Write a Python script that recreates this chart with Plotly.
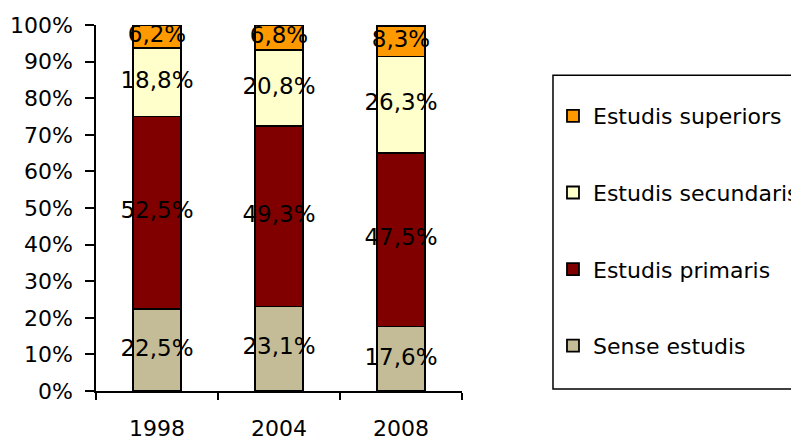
import plotly.graph_objects as go
import numpy as np

years = ["1998", "2004", "2008"]
sense_estudis = [22.5, 23.1, 17.6]
estudis_primaris = [52.5, 49.3, 47.5]
estudis_secundaris = [18.8, 20.8, 26.3]
estudis_superiors = [6.2, 6.8, 8.3]

series = [
    ("Sense estudis", sense_estudis, "#C4BC96"),
    ("Estudis primaris", estudis_primaris, "#800000"),
    ("Estudis secundaris", estudis_secundaris, "#FFFFCC"),
    ("Estudis superiors", estudis_superiors, "#FF9900"),
]

FONT = "DejaVu Sans"
fig = go.Figure()
base = np.zeros(len(years))
n = len(series)
for i, (name, vals, col) in enumerate(series):
    fig.add_trace(go.Bar(
        x=years, y=vals, name=name, legendgroup=name, legendrank=n - i,
        marker=dict(color=col, line=dict(color="black", width=1.8)),
        hoverinfo="skip",
    ))
    mids = base + np.array(vals) / 2
    fig.add_trace(go.Scatter(
        x=years, y=mids, mode="text",
        text=[f"{v:.1f}%".replace(".", ",") for v in vals],
        textfont=dict(family=FONT, size=23, color="black"),
        showlegend=False, cliponaxis=False, hoverinfo="skip",
    ))
    base = base + np.array(vals)

fig.add_shape(type="rect", xref="paper", yref="paper",
              x0=1.2486, x1=2.5, y0=0.0055, y1=0.863,
              line=dict(color="black", width=1.5), fillcolor="rgba(0,0,0,0)")

fig.update_layout(
    width=791, height=434,
    margin=dict(l=88, r=337, t=17, b=51, autoexpand=False),
    paper_bgcolor="white", plot_bgcolor="white",
    barmode="stack", bargap=0.61,
    font=dict(family=FONT, size=22, color="black"),
    legend=dict(
        x=1.2486, xanchor="left", y=0.8085, yanchor="top",
        traceorder="grouped", tracegroupgap=45,
        bgcolor="rgba(0,0,0,0)", borderwidth=0,
        font=dict(family=FONT, size=22, color="black"),
    ),
    xaxis=dict(
        type="category", tickson="boundaries", ticks="outside", ticklen=7,
        tickwidth=1.5, tickcolor="black", showline=True, linecolor="black",
        linewidth=1.5, showgrid=False, ticklabelstandoff=17,
    ),
    yaxis=dict(
        range=[0, 100], tickvals=list(range(0, 101, 10)),
        ticktext=[f"{v}%" for v in range(0, 101, 10)],
        ticks="outside", ticklen=9, tickwidth=1.5, tickcolor="black",
        showline=True, linecolor="black", linewidth=1.5, showgrid=False,
        zeroline=False, ticklabelstandoff=8,
    ),
)

fig.write_html("out.html")
